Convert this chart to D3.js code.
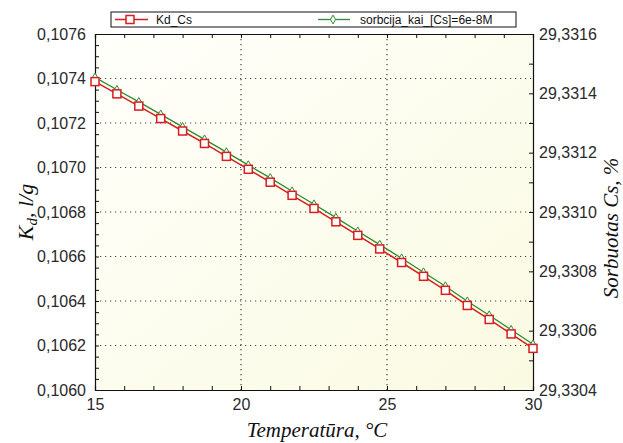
<!DOCTYPE html>
<html><head><meta charset="utf-8">
<script src="https://cdn.jsdelivr.net/npm/d3@7"></script>
<style>body{margin:0;background:#fff}svg{display:block}</style>
</head><body>
<script>
const temperature = [15,15.75,16.5,17.25,18,18.75,19.5,20.25,21,21.75,22.5,23.25,24,24.75,25.5,26.25,27,27.75,28.5,29.25,30];
const kdCs = [0.107386,0.107331,0.107276,0.107220,0.107164,0.107108,0.107050,0.106992,0.106934,0.106875,0.106816,0.106756,0.106695,0.106634,0.106573,0.106511,0.106448,0.106380,0.106317,0.106252,0.106187];
const sorbcija = [29.331454,29.331412,29.331371,29.331329,29.331287,29.331245,29.331202,29.331158,29.331115,29.331070,29.331026,29.330981,29.330935,29.330890,29.330844,29.330797,29.330750,29.330699,29.330652,29.330603,29.330554];
const xTicks = [15,20,25,30];
const leftTicks = [0.1060,0.1062,0.1064,0.1066,0.1068,0.1070,0.1072,0.1074,0.1076];
const rightTicks = [29.3304,29.3306,29.3308,29.3310,29.3312,29.3314,29.3316];
const seriesNames = ["Kd_Cs","sorbcija_kai_[Cs]=6e-8M"];

const W=623,H=443;
const L=95,R=533,T=34,B=390;
const svg=d3.select("body").append("svg").attr("width",W).attr("height",H);
const defs=svg.append("defs");
const grad=defs.append("linearGradient").attr("id","bg").attr("x1","0").attr("y1","0").attr("x2","1").attr("y2","1");
grad.append("stop").attr("offset","0").attr("stop-color","#fffffb");
grad.append("stop").attr("offset","1").attr("stop-color","#fafae2");

const x=d3.scaleLinear().domain([15,30]).range([L,R]);
const yL=d3.scaleLinear().domain([0.1060,0.1076]).range([B,T]);
const yR=d3.scaleLinear().domain([29.3304,29.3316]).range([B,T]);

svg.append("rect").attr("x",L).attr("y",T).attr("width",R-L).attr("height",B-T).attr("fill","url(#bg)");

// grid
const grid=svg.append("g").attr("stroke","#444").attr("stroke-width",1.2).attr("stroke-dasharray","1.2,3.8");
leftTicks.filter(v=>v>0.10601&&v<0.10759).forEach(v=>{
  grid.append("line").attr("x1",L).attr("x2",R).attr("y1",yL(v)).attr("y2",yL(v));
});
xTicks.filter(v=>v>15&&v<30).forEach(v=>{
  grid.append("line").attr("y1",T).attr("y2",B).attr("x1",x(v)).attr("x2",x(v));
});

const font="'Liberation Sans',Arial,sans-serif";
const serif="'Liberation Serif','Times New Roman',serif";

function styleAxis(g){g.select(".domain").attr("stroke","#111").attr("stroke-width",1.2);g.selectAll(".tick line").attr("stroke","#111");g.selectAll("text").attr("font-family",font).attr("font-size",16).attr("fill","#2a2a2a");}
const xMinor=d3.range(15,30.01,1);
const lMinor=d3.range(0,33).map(i=>0.1060+i*0.00005);
const rMinor=d3.range(0,13).map(i=>29.3304+i*0.0001);

svg.append("g").attr("transform",`translate(0,${B})`).call(d3.axisBottom(x).tickValues(xMinor).tickSize(-4).tickFormat("")).call(styleAxis);
svg.append("g").attr("transform",`translate(0,${B})`).call(d3.axisBottom(x).tickValues(xTicks).tickSize(0).tickPadding(9).tickFormat(d3.format("d"))).call(styleAxis).call(g=>g.select(".domain").remove());
svg.append("g").attr("transform",`translate(0,${T})`).call(d3.axisTop(x).tickValues(xMinor).tickSize(-4).tickFormat("")).call(styleAxis);

const commaFmt=d=>d3.format(".4f")(d).replace(".",",");
svg.append("g").attr("transform",`translate(${L},0)`).call(d3.axisLeft(yL).tickValues(lMinor).tickSize(-4).tickFormat("")).call(styleAxis);
svg.append("g").attr("transform",`translate(${L},0)`).call(d3.axisLeft(yL).tickValues(leftTicks).tickSize(0).tickPadding(9).tickFormat(commaFmt)).call(styleAxis).call(g=>g.select(".domain").remove());
svg.append("g").attr("transform",`translate(${R},0)`).call(d3.axisRight(yR).tickValues(rMinor).tickSize(-4).tickFormat("")).call(styleAxis);
svg.append("g").attr("transform",`translate(${R},0)`).call(d3.axisRight(yR).tickValues(rightTicks).tickSize(0).tickPadding(6).tickFormat(commaFmt)).call(styleAxis).call(g=>g.select(".domain").remove());

// series
const red="#d81e1e", green="#2e8b2e";
const data=temperature.map((t,i)=>({t,k:kdCs[i],s:sorbcija[i]}));
const clip=defs.append("clipPath").attr("id","pc");
clip.append("rect").attr("x",L-6).attr("y",T).attr("width",R-L+12).attr("height",B-T);
const plot=svg.append("g").attr("clip-path","url(#pc)");
plot.append("path").datum(data).attr("fill","none").attr("stroke",green).attr("stroke-width",1.3)
  .attr("d",d3.line().x(d=>x(d.t)).y(d=>yR(d.s)));
const diamond=d3.symbol().type(d3.symbolDiamond).size(22);
plot.selectAll(".gm").data(data).join("path").attr("transform",d=>`translate(${x(d.t)},${yR(d.s)})`)
  .attr("d",diamond).attr("fill","#fff").attr("stroke",green).attr("stroke-width",1);
plot.append("path").datum(data).attr("fill","none").attr("stroke",red).attr("stroke-width",1.5)
  .attr("d",d3.line().x(d=>x(d.t)).y(d=>yL(d.k)));
plot.selectAll(".rm").data(data).join("rect").attr("x",d=>x(d.t)-4).attr("y",d=>yL(d.k)-4)
  .attr("width",8).attr("height",8).attr("fill","#fff").attr("stroke",red).attr("stroke-width",1.5);

// legend
const lg=svg.append("g");
lg.append("rect").attr("x",111).attr("y",12).attr("width",405).attr("height",15).attr("fill","#fff").attr("stroke","#111").attr("stroke-width",1);
lg.append("line").attr("x1",115).attr("x2",148).attr("y1",19.5).attr("y2",19.5).attr("stroke",red).attr("stroke-width",1.5);
lg.append("rect").attr("x",126).attr("y",15.5).attr("width",8).attr("height",8).attr("fill","#fff").attr("stroke",red).attr("stroke-width",1.5);
lg.append("text").attr("x",156).attr("y",24).attr("font-family",font).attr("font-size",12).attr("fill","#111").text(seriesNames[0]);
lg.append("line").attr("x1",318).attr("x2",350).attr("y1",19.5).attr("y2",19.5).attr("stroke",green).attr("stroke-width",1.3);
lg.append("path").attr("transform","translate(333,19.5)").attr("d",diamond).attr("fill","#fff").attr("stroke",green).attr("stroke-width",1);
lg.append("text").attr("x",360).attr("y",24).attr("font-family",font).attr("font-size",12).attr("fill","#111").text(seriesNames[1]);

// axis titles
svg.append("text").attr("x",317).attr("y",437).attr("text-anchor","middle").attr("font-family",serif).attr("font-style","italic").attr("font-size",21).attr("fill","#111").text("Temperatūra, °C");
const yt=svg.append("text").attr("transform","translate(33,212) rotate(-90)").attr("text-anchor","middle").attr("font-family",serif).attr("font-style","italic").attr("font-size",22).attr("fill","#111");
yt.append("tspan").text("K");
yt.append("tspan").attr("font-size",15).attr("dy",4).text("d");
yt.append("tspan").attr("dy",-4).text(", l/g");
svg.append("text").attr("transform","translate(618,228) rotate(-90)").attr("text-anchor","middle").attr("font-family",serif).attr("font-style","italic").attr("font-size",21).attr("fill","#111").text("Sorbuotas Cs, %");
</script>
</body></html>
